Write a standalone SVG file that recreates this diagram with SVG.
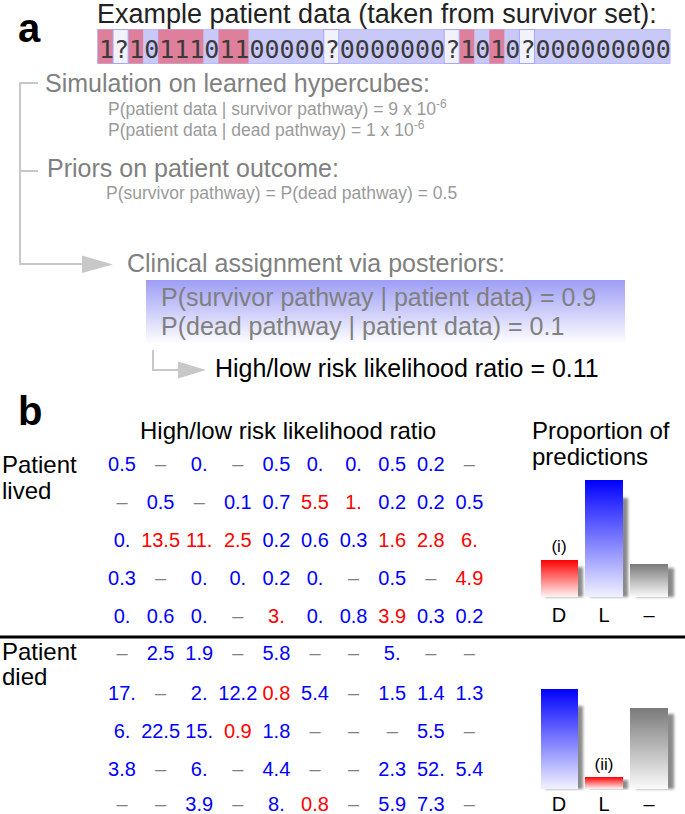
<svg xmlns="http://www.w3.org/2000/svg" width="685" height="814" viewBox="0 0 685 814">
<style>
.lbl{font-family:"Liberation Sans",Arial,sans-serif;}
.big{font-size:25px;}
.h{font-size:25px;fill:#808080;}
.s{font-size:17.5px;fill:#9a9a9a;}
.panel{font-family:"Liberation Sans",Arial,sans-serif;font-weight:bold;font-size:40px;fill:#000;}
.mono{font-family:"DejaVu Sans Mono",monospace;font-size:25px;fill:#3a3a3a;}
.pink{fill:#de7f9c;}
.q{fill:#f2f2fd;stroke:#a8a8f2;stroke-width:1;}
.num{font-family:"Liberation Sans",Arial,sans-serif;font-size:20px;text-anchor:middle;}
.b{fill:#0000ff;}
.r{fill:#ff0000;}
.g{fill:#808080;}
.conn{stroke:#c8c8c8;stroke-width:2;fill:none;}
.ah{fill:#c8c8c8;}
.shadow{fill:#8a8a8a;filter:url(#blur);}
.axl{font-family:"Liberation Sans",Arial,sans-serif;font-size:20px;text-anchor:middle;fill:#000;}
</style>
<defs>
<linearGradient id="gBox" x1="0" y1="0" x2="0" y2="1"><stop offset="0" stop-color="#9d9df6"/><stop offset="1" stop-color="#ffffff"/></linearGradient>
<linearGradient id="gRed" x1="0" y1="0" x2="0" y2="1"><stop offset="0" stop-color="#ff0000"/><stop offset="1" stop-color="#fff4f4"/></linearGradient>
<linearGradient id="gBlue" x1="0" y1="0" x2="0" y2="1"><stop offset="0" stop-color="#0000ff"/><stop offset="1" stop-color="#f2f2ff"/></linearGradient>
<linearGradient id="gGray" x1="0" y1="0" x2="0" y2="1"><stop offset="0" stop-color="#7a7a7a"/><stop offset="1" stop-color="#fafafa"/></linearGradient>
<filter id="blur" x="-50%" y="-10%" width="200%" height="120%"><feGaussianBlur stdDeviation="1.5"/></filter>
</defs>
<rect width="685" height="814" fill="#ffffff"/>

<!-- panel a -->
<text class="panel" x="18" y="42">a</text>
<g id="title"><text class="lbl" font-size="27" x="97" y="23" fill="#222">Example patient data (taken from survivor set):</text></g>
<g id="data">
<rect x="97.5" y="29.5" width="572.5" height="34" fill="#c9c9f9" stroke="#bcbcf5" stroke-width="1"/>
<rect class="pink" x="98" y="29.5" width="15.05" height="34"/>
<rect class="pink" x="128.1" y="29.5" width="15.05" height="34"/>
<rect class="pink" x="158.2" y="29.5" width="45.15" height="34"/>
<rect class="pink" x="218.4" y="29.5" width="30.1" height="34"/>
<rect class="pink" x="459.2" y="29.5" width="15.05" height="34"/>
<rect class="pink" x="489.3" y="29.5" width="15.05" height="34"/>
<rect class="q" x="113.05" y="29.5" width="15.05" height="34"/>
<rect class="q" x="323.75" y="29.5" width="15.05" height="34"/>
<rect class="q" x="444.15" y="29.5" width="15.05" height="34"/>
<rect class="q" x="519.4" y="29.5" width="15.05" height="34"/>
<text class="mono" x="99" y="58" textLength="571.9" lengthAdjust="spacing">1?1011101100000?0000000?1010?000000000</text>
</g>

<g id="connectors">
<polyline class="conn" points="38,83 20,83 20,264 82,264"/>
<line class="conn" x1="20" y1="171" x2="38" y2="171"/>
<polygon class="ah" points="82,255.5 82,273 113,264.5"/>
<polyline class="conn" points="153,350 153,370 178,370"/>
<polygon class="ah" points="178,361.5 178,378.5 206,370"/>
</g>

<g id="simulation">
<text class="lbl h" x="45" y="92">Simulation on learned hypercubes:</text>
<text class="lbl s" x="108" y="115">P(patient data | survivor pathway) = 9 x 10<tspan font-size="12" dy="-7">-6</tspan></text>
<text class="lbl s" x="108" y="136">P(patient data | dead pathway) = 1 x 10<tspan font-size="12" dy="-7">-6</tspan></text>
</g>
<g id="priors">
<text class="lbl h" x="47" y="177">Priors on patient outcome:</text>
<text class="lbl s" x="106" y="199">P(survivor pathway) = P(dead pathway) = 0.5</text>
</g>
<g id="clinical">
<text class="lbl h" x="127" y="272">Clinical assignment via posteriors:</text>
<rect x="146" y="280" width="479" height="64" fill="url(#gBox)"/>
<text class="lbl h" x="161" y="306">P(survivor pathway | patient data) = 0.9</text>
<text class="lbl h" x="161" y="335">P(dead pathway | patient data) = 0.1</text>
</g>
<g id="ratio">
<text class="lbl big" x="215" y="377" fill="#000">High/low risk likelihood ratio = 0.11</text>
</g>

<!-- panel b -->
<text class="panel" x="18" y="425">b</text>
<g id="headers" class="lbl" font-size="24" fill="#000">
<text x="140" y="439">High/low risk likelihood ratio</text>
<text x="532" y="439">Proportion of</text>
<text x="532" y="465">predictions</text>
<text x="2" y="473">Patient</text>
<text x="2" y="499">lived</text>
<text x="2" y="660">Patient</text>
<text x="2" y="685">died</text>
</g>

<g id="lived-table" class="num">
<text y="471"><tspan class="b" x="122">0.5</tspan><tspan class="g" x="160.6">–</tspan><tspan class="b" x="199.2">0.</tspan><tspan class="g" x="237.8">–</tspan><tspan class="b" x="276.4">0.5</tspan><tspan class="b" x="315">0.</tspan><tspan class="b" x="353.6">0.</tspan><tspan class="b" x="392.2">0.5</tspan><tspan class="b" x="430.8">0.2</tspan><tspan class="g" x="469.4">–</tspan></text>
<text y="509"><tspan class="g" x="122">–</tspan><tspan class="b" x="160.6">0.5</tspan><tspan class="g" x="199.2">–</tspan><tspan class="b" x="237.8">0.1</tspan><tspan class="b" x="276.4">0.7</tspan><tspan class="r" x="315">5.5</tspan><tspan class="r" x="353.6">1.</tspan><tspan class="b" x="392.2">0.2</tspan><tspan class="b" x="430.8">0.2</tspan><tspan class="b" x="469.4">0.5</tspan></text>
<text y="547"><tspan class="b" x="122">0.</tspan><tspan class="r" x="160.6">13.5</tspan><tspan class="r" x="199.2">11.</tspan><tspan class="r" x="237.8">2.5</tspan><tspan class="b" x="276.4">0.2</tspan><tspan class="b" x="315">0.6</tspan><tspan class="b" x="353.6">0.3</tspan><tspan class="r" x="392.2">1.6</tspan><tspan class="r" x="430.8">2.8</tspan><tspan class="r" x="469.4">6.</tspan></text>
<text y="585"><tspan class="b" x="122">0.3</tspan><tspan class="g" x="160.6">–</tspan><tspan class="b" x="199.2">0.</tspan><tspan class="b" x="237.8">0.</tspan><tspan class="b" x="276.4">0.2</tspan><tspan class="b" x="315">0.</tspan><tspan class="g" x="353.6">–</tspan><tspan class="b" x="392.2">0.5</tspan><tspan class="g" x="430.8">–</tspan><tspan class="r" x="469.4">4.9</tspan></text>
<text y="623"><tspan class="b" x="122">0.</tspan><tspan class="b" x="160.6">0.6</tspan><tspan class="b" x="199.2">0.</tspan><tspan class="g" x="237.8">–</tspan><tspan class="r" x="276.4">3.</tspan><tspan class="b" x="315">0.</tspan><tspan class="b" x="353.6">0.8</tspan><tspan class="r" x="392.2">3.9</tspan><tspan class="b" x="430.8">0.3</tspan><tspan class="b" x="469.4">0.2</tspan></text>
</g>

<line x1="0" y1="637" x2="685" y2="637" stroke="#000" stroke-width="3"/>

<g id="died-table" class="num">
<text y="660"><tspan class="g" x="122">–</tspan><tspan class="b" x="160.6">2.5</tspan><tspan class="b" x="199.2">1.9</tspan><tspan class="g" x="237.8">–</tspan><tspan class="b" x="276.4">5.8</tspan><tspan class="g" x="315">–</tspan><tspan class="g" x="353.6">–</tspan><tspan class="b" x="392.2">5.</tspan><tspan class="g" x="430.8">–</tspan><tspan class="g" x="469.4">–</tspan></text>
<text y="700"><tspan class="b" x="122">17.</tspan><tspan class="g" x="160.6">–</tspan><tspan class="b" x="199.2">2.</tspan><tspan class="b" x="237.8">12.2</tspan><tspan class="r" x="276.4">0.8</tspan><tspan class="b" x="315">5.4</tspan><tspan class="g" x="353.6">–</tspan><tspan class="b" x="392.2">1.5</tspan><tspan class="b" x="430.8">1.4</tspan><tspan class="b" x="469.4">1.3</tspan></text>
<text y="738"><tspan class="b" x="122">6.</tspan><tspan class="b" x="160.6">22.5</tspan><tspan class="b" x="199.2">15.</tspan><tspan class="r" x="237.8">0.9</tspan><tspan class="b" x="276.4">1.8</tspan><tspan class="g" x="315">–</tspan><tspan class="g" x="353.6">–</tspan><tspan class="g" x="392.2">–</tspan><tspan class="b" x="430.8">5.5</tspan><tspan class="g" x="469.4">–</tspan></text>
<text y="776"><tspan class="b" x="122">3.8</tspan><tspan class="g" x="160.6">–</tspan><tspan class="b" x="199.2">6.</tspan><tspan class="g" x="237.8">–</tspan><tspan class="b" x="276.4">4.4</tspan><tspan class="g" x="315">–</tspan><tspan class="g" x="353.6">–</tspan><tspan class="b" x="392.2">2.3</tspan><tspan class="b" x="430.8">52.</tspan><tspan class="b" x="469.4">5.4</tspan></text>
<text y="811"><tspan class="g" x="122">–</tspan><tspan class="g" x="160.6">–</tspan><tspan class="b" x="199.2">3.9</tspan><tspan class="g" x="237.8">–</tspan><tspan class="b" x="276.4">8.</tspan><tspan class="r" x="315">0.8</tspan><tspan class="g" x="353.6">–</tspan><tspan class="b" x="392.2">5.9</tspan><tspan class="b" x="430.8">7.3</tspan><tspan class="g" x="469.4">–</tspan></text>
</g>

<g id="lived-bars">
<rect class="shadow" x="545" y="567" width="38" height="30"/>
<rect x="541" y="560" width="37" height="37" fill="url(#gRed)"/>
<rect class="shadow" x="590" y="498" width="38" height="99"/>
<rect x="585" y="480" width="38" height="117" fill="url(#gBlue)"/>
<rect class="shadow" x="636" y="568" width="38" height="29"/>
<rect x="630" y="564" width="38" height="33" fill="url(#gGray)"/>
<text class="lbl" x="559" y="552" font-size="17" text-anchor="middle" fill="#000">(i)</text>
<text class="axl" x="559" y="622">D</text>
<text class="axl" x="604" y="622">L</text>
<text class="axl" x="649" y="622">–</text>
</g>

<g id="died-bars">
<rect class="shadow" x="545" y="706" width="38" height="83"/>
<rect x="541" y="689" width="37" height="100" fill="url(#gBlue)"/>
<rect class="shadow" x="590" y="780" width="38" height="9"/>
<rect x="585" y="777" width="38" height="12" fill="url(#gRed)"/>
<rect class="shadow" x="636" y="714" width="38" height="75"/>
<rect x="630" y="708" width="38" height="81" fill="url(#gGray)"/>
<text class="lbl" x="604" y="770" font-size="17" text-anchor="middle" fill="#000">(ii)</text>
<text class="axl" x="559" y="811">D</text>
<text class="axl" x="604" y="811">L</text>
<text class="axl" x="649" y="811">–</text>
</g>
</svg>
